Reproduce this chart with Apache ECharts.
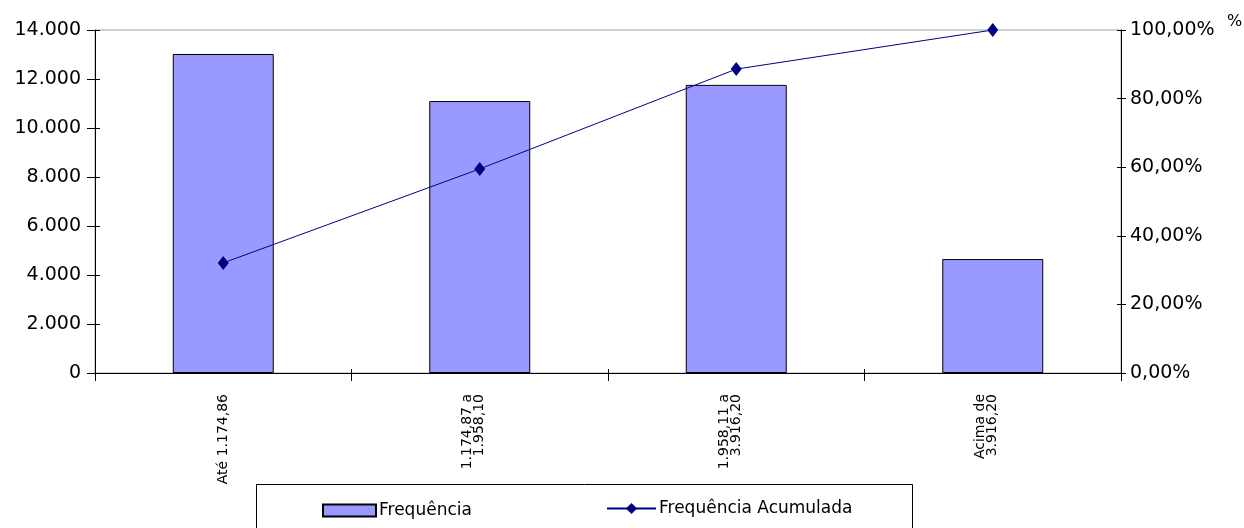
<!DOCTYPE html>
<html>
<head>
<meta charset="utf-8">
<style>
html,body{margin:0;padding:0;background:#fff;}
#chart{width:1244px;height:528px;}
</style>
<script src="https://cdn.jsdelivr.net/npm/echarts@6/dist/echarts.min.js"></script>
</head>
<body>
<div id="chart"></div>
<script>
const categories = ['Até 1.174,86', '1.174,87 a\n1.958,10', '1.958,11 a\n3.916,20', 'Acima de\n3.916,20'];
const frequencia = [13020, 11100, 11760, 4650];
const freqAcumulada = [32.1, 59.5, 88.6, 100];
const leftTicks = { min: 0, max: 14000, interval: 2000 };
const rightTicks = { min: 0, max: 100, interval: 20 };

const FONT = "'DejaVu Sans', 'Liberation Sans', Arial, sans-serif";
const fmtThousands = v => String(v).replace(/\B(?=(\d{3})+(?!\d))/g, '.');
const fmtPct = v => v.toFixed(2).replace('.', ',') + '%';
// two-line labels sit slightly left of the category centre in the original
const fmtCat = v => (v.indexOf('\n') >= 0 ? v + '\n' : v);

const chart = echarts.init(document.getElementById('chart'), null, { renderer: 'canvas' });
chart.setOption({
  animation: false,
  backgroundColor: '#fff',
  textStyle: { fontFamily: FONT },
  grid: {
    left: 95, right: 123, top: 30, bottom: 155,
    show: true, borderColor: '#a0a0a0', borderWidth: 1, backgroundColor: 'transparent'
  },
  legend: [
    {
      data: ['Frequência'], left: 322, top: 502, padding: 0,
      itemWidth: 53, itemHeight: 12, icon: 'rect', itemGap: 0,
      textStyle: { fontFamily: FONT, fontSize: 17, color: '#000', padding: [0, 0, 0, -2] }
    },
    {
      data: ['Frequência Acumulada'], left: 606, top: 500, padding: 0,
      itemWidth: 49, itemHeight: 14,
      textStyle: { fontFamily: FONT, fontSize: 17, color: '#000', padding: [0, 0, 0, -2] }
    }
  ],
  graphic: [
    { type: 'rect', left: 256, top: 484, shape: { width: 656, height: 60 },
      style: { fill: 'transparent', stroke: '#000', lineWidth: 1 }, z: 1 },
    { type: 'text', left: 1227, top: 14,
      style: { text: '%', font: '16px ' + FONT, fill: '#000' } }
  ],
  xAxis: [
    {
      type: 'category', data: categories, position: 'bottom', boundaryGap: true,
      axisLine: { show: true, lineStyle: { color: '#000', width: 1 } },
      axisTick: { show: true, length: 8, lineStyle: { color: '#000' } },
      axisLabel: { rotate: 90, margin: 21, fontSize: 14, lineHeight: 12, color: '#000', fontFamily: FONT, interval: 0, formatter: fmtCat },
      splitLine: { show: false }
    },
    {
      type: 'category', data: categories, position: 'bottom', boundaryGap: true,
      axisLine: { show: false },
      axisTick: { show: true, inside: true, length: 4, lineStyle: { color: '#000' } },
      axisLabel: { show: false }, splitLine: { show: false }
    }
  ],
  yAxis: [
    {
      type: 'value', position: 'left', min: leftTicks.min, max: leftTicks.max, interval: leftTicks.interval,
      axisLine: { show: true, lineStyle: { color: '#000' } },
      axisTick: { show: true, length: 8, lineStyle: { color: '#000' } },
      axisLabel: { formatter: fmtThousands, fontSize: 19, color: '#000', margin: 14, fontFamily: FONT },
      splitLine: { show: false }
    },
    {
      type: 'value', position: 'right', min: rightTicks.min, max: rightTicks.max, interval: rightTicks.interval,
      axisLine: { show: true, lineStyle: { color: '#000' } },
      axisTick: { show: true, length: 5, lineStyle: { color: '#000' } },
      axisLabel: { formatter: fmtPct, fontSize: 19, color: '#000', margin: 9, fontFamily: FONT },
      splitLine: { show: false }
    },
    {
      type: 'value', position: 'left', min: leftTicks.min, max: leftTicks.max, interval: leftTicks.interval,
      axisLine: { show: false },
      axisTick: { show: true, inside: true, length: 5, lineStyle: { color: '#000' } },
      axisLabel: { show: false }, splitLine: { show: false }
    },
    {
      type: 'value', position: 'right', min: rightTicks.min, max: rightTicks.max, interval: rightTicks.interval,
      axisLine: { show: false },
      axisTick: { show: true, inside: true, length: 4, lineStyle: { color: '#000' } },
      axisLabel: { show: false }, splitLine: { show: false }
    }
  ],
  series: [
    {
      name: 'Frequência', type: 'bar', xAxisIndex: 0, yAxisIndex: 0, data: frequencia,
      barWidth: 101,
      itemStyle: { color: '#9999FF', borderColor: '#000', borderWidth: 1 }
    },
    {
      name: 'Frequência Acumulada', type: 'line', xAxisIndex: 0, yAxisIndex: 1, data: freqAcumulada,
      symbol: 'diamond', symbolSize: [11, 14],
      lineStyle: { color: '#000080', width: 1 },
      itemStyle: { color: '#000080' },
      z: 5
    }
  ]
});
</script>
</body>
</html>
